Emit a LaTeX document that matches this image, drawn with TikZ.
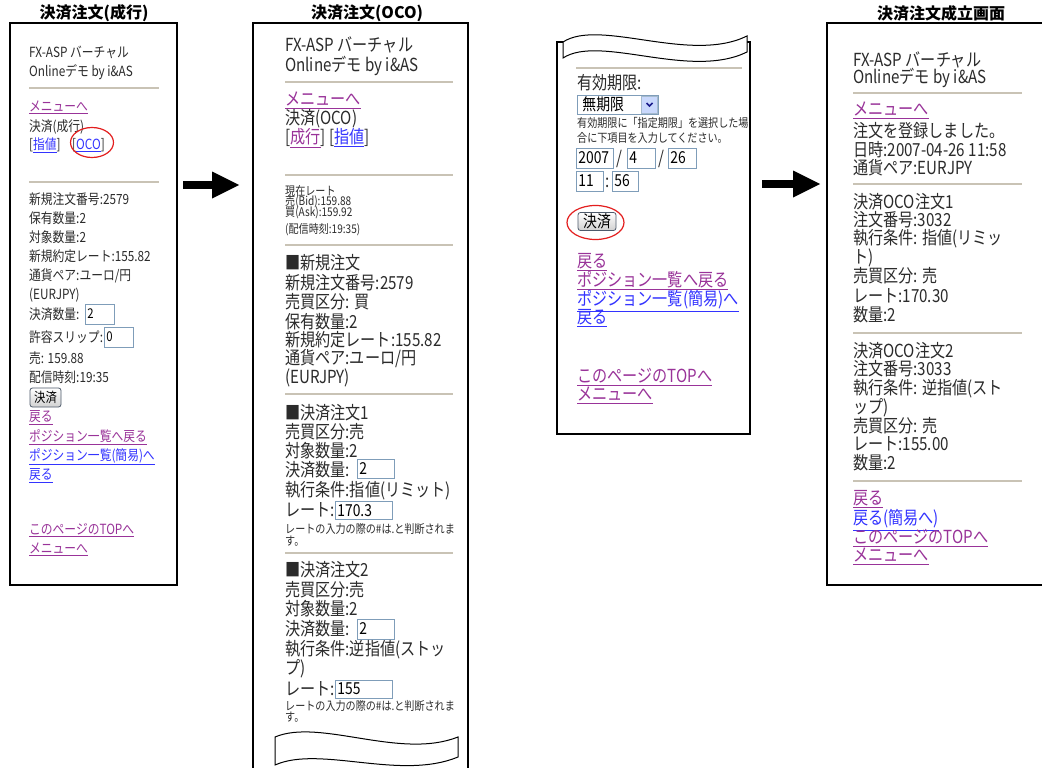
\documentclass[tikz,border=0pt]{standalone}
\usepackage{fontspec}
\setmainfont{Noto Sans CJK JP}
\newfontfamily\jpc[FakeStretch=0.84]{Noto Sans CJK JP}
\usetikzlibrary{arrows.meta}
\definecolor{txtc}{HTML}{2B2B2B}
\definecolor{linkp}{HTML}{993399}
\definecolor{linkb}{HTML}{3333FF}
\definecolor{sepc}{HTML}{C9C3B5}
\definecolor{boxc}{HTML}{7F9DB9}
\definecolor{ringc}{HTML}{E31E1E}
\definecolor{selc}{HTML}{C9D8FC}
\definecolor{btnc}{HTML}{4D5A6B}
\newcommand\fpa{\jpc\fontsize{14}{16}\selectfont}
\newcommand\fpb{\jpc\fontsize{18}{21}\selectfont}
\newcommand\fsm{\jpc\fontsize{12}{14}\selectfont}
\newcommand\fbx{\jpc\fontsize{13.5}{15}\selectfont}
\newcommand\fbig{\jpc\fontsize{16.5}{18}\selectfont}
\newcommand\fttl{\bfseries\fontsize{16}{19}\selectfont}
\newcommand\lkp[1]{\textcolor{linkp}{\underline{#1}}}
\newcommand\lkb[1]{\textcolor{linkb}{\underline{#1}}}
\begin{document}
\begin{tikzpicture}[x=1pt,y=-1pt]
\tikzset{
  pa/.style={anchor=base west, inner sep=0pt, text=txtc, font=\fpa, yshift=-5.3pt},
  pb/.style={anchor=base west, inner sep=0pt, text=txtc, font=\fpb, yshift=-6.8pt},
  sm/.style={anchor=base west, inner sep=0pt, text=txtc, font=\fsm, yshift=-4.6pt},
  ttl/.style={inner sep=0pt, text=black, font=\fttl},
  frame/.style={draw=black, line width=2pt},
  sep/.style={draw=sepc, line width=2pt},
  ibox/.style={draw=boxc, line width=0.8pt, fill=white, anchor=west, inner xsep=2pt, inner ysep=0pt, align=left, text=black, font=\fbx},
  btn/.style={draw=btnc, line width=0.8pt, rounded corners=2.5pt, top color=white, bottom color=black!18, inner sep=0pt, text=black, font=\fbx},
  ring/.style={draw=ringc, line width=1.2pt},
  wave/.style={draw=black, fill=white, line width=1pt},
  bigarrow/.style={line width=8pt, -{Triangle[length=27pt, width=27pt, line width=0pt]}}
}
\fill[white] (0,0) rectangle (1042,768);
\useasboundingbox (0,0) rectangle (1042,768);

% titles
\node[ttl] (t1) at (94,13) {決済注文(成行)};
\node[ttl] (t2) at (367,13) {決済注文(OCO)};
\node[ttl] (t4) at (941,13) {決済注文成立画面};

% screen 1
\draw[frame] (10,23) rectangle (177,585);
\node[pa] (p1a) at (29,52) {FX-ASP バーチャル};
\node[pa] (p1b) at (29,71) {Onlineデモ by i\&AS};
\draw[sep] (29,88) -- (159,88);
\node[pa] (p1c) at (29,106) {\lkp{メニューへ}};
\node[pa] (p1d) at (29,126) {決済(成行)};
\node[pa] (p1e) at (29,144) {[\lkb{指値}]};
\node[pa] (p1oco) at (72,144) {[\lkb{OCO}]};
\draw[ring] (92,142.5) ellipse (21.5pt and 15pt);
\draw[sep] (29,182) -- (159,182);
\node[pa] (p1f) at (29,199) {新規注文番号:2579};
\node[pa] (p1g) at (29,218) {保有数量:2};
\node[pa] (p1h) at (29,237) {対象数量:2};
\node[pa] (p1i) at (29,256) {新規約定レート:155.82};
\node[pa] (p1j) at (29,275) {通貨ペア:ユーロ/円};
\node[pa] (p1k) at (29,294) {(EURJPY)};
\node[pa] (p1l) at (29,314) {決済数量:};
\node[ibox, text width=25pt, minimum height=20pt] (p1qty) at (85,314) {2};
\node[pa] (p1m) at (29,337) {許容スリップ:};
\node[ibox, text width=25pt, minimum height=20pt] (p1slip) at (104,337) {0};
\node[pa] (p1n) at (29,358) {売: 159.88};
\node[pa] (p1o) at (29,377) {配信時刻:19:35};
\node[btn, minimum width=31pt, minimum height=19pt] (p1btn) at (45.5,397.5) {決済};
\node[pa] (p1p) at (29,416) {\lkp{戻る}};
\node[pa] (p1q) at (29,436) {\lkp{ポジション一覧へ戻る}};
\node[pa] (p1r) at (29,455) {\lkb{ポジション一覧(簡易)へ}};
\node[pa] (p1s) at (29,474) {\lkb{戻る}};
\node[pa] (p1t) at (29,529) {\lkp{このページのTOPへ}};
\node[pa] (p1u) at (29,548) {\lkp{メニューへ}};

\coordinate (a1s) at (183,185);
\coordinate (a1e) at (239,185);
\draw[bigarrow] (a1s) -- (a1e);

% screen 2
\draw[frame] (253,768) -- (253,23) -- (468,23) -- (468,768);
\node[pb] (p2a) at (285,45) {FX-ASP バーチャル};
\node[pb] (p2b) at (285,65) {Onlineデモ by i\&AS};
\draw[sep] (285,82) -- (453,82);
\node[pb] (p2c) at (285,99) {\lkp{メニューへ}};
\node[pb] (p2d) at (285,118) {決済(OCO)};
\node[pb] (p2e) at (285,137) {[\lkp{成行}] [\lkb{指値}]};
\draw[sep] (285,175) -- (453,175);
\node[sm] (p2f) at (285,191) {現在レート};
\node[sm] (p2g) at (285,201) {売(Bid):159.88};
\node[sm] (p2h) at (285,212) {買(Ask):159.92};
\node[sm] (p2i) at (285,229) {(配信時刻:19:35)};
\draw[sep] (285,245) -- (453,245);
\node[pb] (p2j) at (285,263) {■新規注文};
\node[pb] (p2k) at (285,283) {新規注文番号:2579};
\node[pb] (p2l) at (285,302) {売買区分: 買};
\node[pb] (p2m) at (285,322) {保有数量:2};
\node[pb] (p2n) at (285,340) {新規約定レート:155.82};
\node[pb] (p2o) at (285,358) {通貨ペア:ユーロ/円};
\node[pb] (p2p) at (285,377) {(EURJPY)};
\draw[sep] (285,394) -- (453,394);
\node[pb] (p2q) at (285,413) {■決済注文1};
\node[pb] (p2r) at (285,432) {売買区分:売};
\node[pb] (p2s) at (285,451) {対象数量:2};
\node[pb] (p2t) at (285,470) {決済数量:};
\node[ibox, font=\fbig, text width=33pt, minimum height=19pt] (p2qa) at (357,469) {2};
\node[pb] (p2u) at (285,490) {執行条件:指値(リミット)};
\node[pb] (p2v) at (285,510) {レート:};
\node[ibox, font=\fbig, text width=53pt, minimum height=18pt] (p2ra) at (335,510.5) {170.3};
\node[sm] (p2w) at (285,529) {レートの入力の際の\#は.と判断されま};
\node[sm] (p2x) at (285,541) {す。};
\draw[sep] (285,553) -- (453,553);
\node[pb] (p2y) at (285,570) {■決済注文2};
\node[pb] (p2z) at (285,590) {売買区分:売};
\node[pb] (p2aa) at (285,609) {対象数量:2};
\node[pb] (p2ab) at (285,629) {決済数量:};
\node[ibox, font=\fbig, text width=33pt, minimum height=20pt] (p2qb) at (357,629) {2};
\node[pb] (p2ac) at (285,649) {執行条件:逆指値(ストッ};
\node[pb] (p2ad) at (285,668) {プ)};
\node[pb] (p2ae) at (285,689) {レート:};
\node[ibox, font=\fbig, text width=53pt, minimum height=18pt] (p2rb) at (335,689) {155};
\node[sm] (p2af) at (285,706) {レートの入力の際の\#は.と判断されま};
\node[sm] (p2ag) at (285,717) {す。};
\draw[wave] (275,737) .. controls (320,718) and (400,760) .. (458,737) -- (458,757)
  .. controls (400,781) and (320,745) .. (275,765) -- cycle;

% screen 3
\draw[frame] (565,42) -- (557,42) -- (557,434) -- (750,434) -- (750,42) -- (747,42);
\draw[wave] (563,42) .. controls (600,18) and (690,64) .. (747,36) -- (747,52)
  .. controls (690,80) and (600,34) .. (563,58) -- cycle;
\draw[sep] (576,68) -- (742,68);
\node[pb] (p3a) at (577,83) {有効期限:};
\node[ibox, font=\fbig, inner xsep=5pt, text width=71pt, minimum height=19pt] (p3sel) at (577,104.5) {無期限};
\node[draw=boxc!70, fill=selc, minimum width=16pt, minimum height=17pt, inner sep=0pt, anchor=east] (p3selb) at ([xshift=-1pt]p3sel.east) {};
\draw[linkb!55!black, line width=1.6pt] ([xshift=-3pt,yshift=1.5pt]p3selb.center) -- ([yshift=-1.5pt]p3selb.center) -- ([xshift=3pt,yshift=1.5pt]p3selb.center);
\node[sm] (p3b) at (577,123) {有効期限に「指定期限」を選択した場};
\node[sm] (p3c) at (577,138) {合に下項目を入力してください。};
\node[ibox, font=\fbig, text width=33pt, minimum height=20pt] (p3yr) at (576,158) {2007};
\node[pb] (p3s1) at (616,158) {/};
\node[ibox, font=\fbig, text width=24pt, minimum height=20pt] (p3mo) at (627,158) {4};
\node[pb] (p3s2) at (658,158) {/};
\node[ibox, font=\fbig, text width=24pt, minimum height=20pt] (p3dy) at (668,158) {26};
\node[ibox, font=\fbig, text width=23pt, minimum height=20pt] (p3hr) at (576,181) {11};
\node[pb] (p3cl) at (605,181) {:};
\node[ibox, font=\fbig, text width=22pt, minimum height=20pt] (p3mi) at (612,181) {56};
\node[btn, font=\fbig, minimum width=38pt, minimum height=18pt] (p3btn) at (597,221.5) {決済};
\draw[ring] (595.5,222.5) ellipse (28.5pt and 17pt);
\node[pb] (p3d) at (577,261) {\lkp{戻る}};
\node[pb] (p3e) at (577,280) {\lkp{ポジション一覧へ戻る}};
\node[pb] (p3f) at (577,299) {\lkb{ポジション一覧(簡易)へ}};
\node[pb] (p3g) at (577,317) {\lkb{戻る}};
\node[pb] (p3h) at (577,376) {\lkp{このページのTOPへ}};
\node[pb] (p3i) at (577,394) {\lkp{メニューへ}};

\coordinate (a2s) at (762,184);
\coordinate (a2e) at (820,184);
\draw[bigarrow] (a2s) -- (a2e);

% screen 4
\draw[frame] (1042,23) -- (827,23) -- (827,585) -- (1042,585);
\node[pb] (p4a) at (853,60) {FX-ASP バーチャル};
\node[pb] (p4b) at (853,77) {Onlineデモ by i\&AS};
\draw[sep] (853,93) -- (1022,93);
\node[pb] (p4c) at (853,109) {\lkp{メニューへ}};
\node[pb] (p4d) at (853,131) {注文を登録しました。};
\node[pb] (p4e) at (853,150) {日時:2007-04-26 11:58};
\node[pb] (p4f) at (853,168) {通貨ペア:EURJPY};
\draw[sep] (853,184) -- (1022,184);
\node[pb] (p4g) at (853,202) {決済OCO注文1};
\node[pb] (p4h) at (853,220) {注文番号:3032};
\node[pb] (p4i) at (853,238) {執行条件: 指値(リミッ};
\node[pb] (p4j) at (853,257) {ト)};
\node[pb] (p4k) at (853,276) {売買区分: 売};
\node[pb] (p4l) at (853,296) {レート:170.30};
\node[pb] (p4m) at (853,315) {数量:2};
\draw[sep] (853,333) -- (1022,333);
\node[pb] (p4n) at (853,351) {決済OCO注文2};
\node[pb] (p4o) at (853,369) {注文番号:3033};
\node[pb] (p4p) at (853,388) {執行条件: 逆指値(スト};
\node[pb] (p4q) at (853,407) {ップ)};
\node[pb] (p4r) at (853,426) {売買区分: 売};
\node[pb] (p4s) at (853,444) {レート:155.00};
\node[pb] (p4t) at (853,463) {数量:2};
\draw[sep] (853,481) -- (1022,481);
\node[pb] (p4u) at (853,498) {\lkp{戻る}};
\node[pb] (p4v) at (853,518) {\lkb{戻る(簡易へ)}};
\node[pb] (p4w) at (853,537) {\lkp{このページのTOPへ}};
\node[pb] (p4x) at (853,555) {\lkp{メニューへ}};
\end{tikzpicture}
\end{document}
